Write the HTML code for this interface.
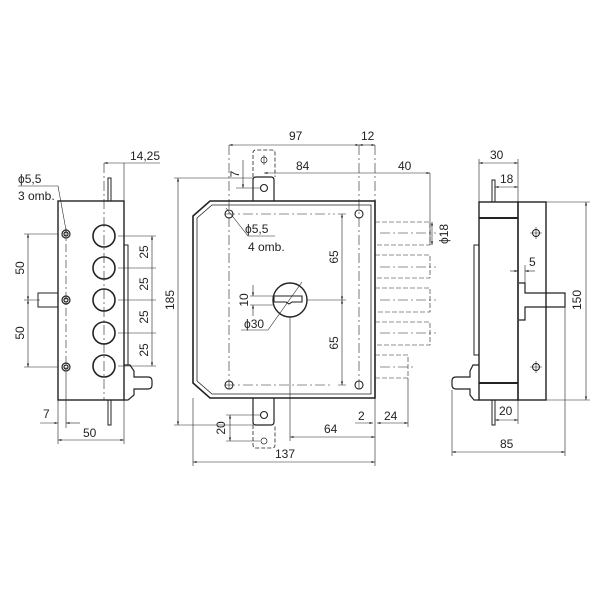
<!DOCTYPE html>
<html><head><meta charset="utf-8"><style>
body{margin:0;background:#fff}
svg{display:block}
text{font-family:"Liberation Sans",sans-serif;font-size:12px;fill:#222}
</style></head><body>
<svg width="600" height="600" viewBox="0 0 600 600" xmlns="http://www.w3.org/2000/svg">
<defs>
<marker id="a" viewBox="0 0 10 10" refX="10" refY="5" markerWidth="6" markerHeight="6" orient="auto-start-reverse"><path d="M0,2 L10,5 L0,8z" fill="#222"/></marker>
</defs>
<g stroke="#222" fill="none">
<!-- LEFT VIEW -->
<rect x="58" y="201" width="66" height="199" stroke-width="1.4"/>
<rect x="108" y="178" width="3" height="23" stroke-width="1"/>
<rect x="108" y="400" width="3" height="25" stroke-width="1"/>
<rect x="38" y="293" width="20" height="14" stroke-width="1"/>
<rect x="124" y="245" width="4" height="120" stroke-width="1"/>
<path d="M124,365 h6 l4,6 v6 h14 q4,0 4,4 v4 q0,4 -4,4 h-14 v6 l-6,5 h-4" stroke-width="1.2"/>
<g stroke-width="1.6"><circle cx="104" cy="236" r="11"/><circle cx="104" cy="268" r="11"/><circle cx="104" cy="300" r="11"/><circle cx="104" cy="333" r="11"/><circle cx="104" cy="366" r="11"/></g>
<g stroke-width="1.2"><circle cx="66" cy="234" r="4"/><circle cx="66" cy="234" r="2"/><circle cx="66" cy="300" r="4"/><circle cx="66" cy="300" r="2"/><circle cx="66" cy="367" r="4"/><circle cx="66" cy="367" r="2"/></g>
<g stroke-width="0.6">
<path d="M104,163 V400" stroke-dasharray="10,3,2,3"/>
<path d="M66,228 V375" stroke-dasharray="8,3,2,3"/>
<path d="M124,163 V201"/><path d="M104,163 H124 M124,163 H160" marker-start="url(#a)"/>
<path d="M18,186 H58 L66,230"/>
<path d="M24,234 H58 M24,300 H40 M24,367 H58"/>
<path d="M28,234 V300" marker-start="url(#a)" marker-end="url(#a)"/>
<path d="M28,300 V367" marker-start="url(#a)" marker-end="url(#a)"/>
<path d="M118,236 H156 M118,268 H156 M118,300 H156 M118,333 H156 M118,366 H156"/>
<path d="M152,236 V268 M152,268 V300 M152,300 V333 M152,333 V366" marker-start="url(#a)" marker-end="url(#a)"/>
<path d="M58,400 V444 M124,400 V444 M66,375 V428"/>
<path d="M58,440 H124" marker-start="url(#a)" marker-end="url(#a)"/>
<path d="M40,423 H58" marker-end="url(#a)"/><path d="M66,423 H80" marker-start="url(#a)"/>
</g>

<!-- CENTER VIEW -->
<path d="M210,201 H375 V398 H210 L193,383 V216 Z" stroke-width="1.6"/>
<path d="M212,205 H371 V394 H212 L197,381 V218 Z" stroke-width="0.8"/>
<path d="M253,201 V180 q0,-3 3,-3 h15 q3,0 3,3 V201" stroke-width="1.2"/>
<path d="M253,398 V422 q0,3 3,3 h15 q3,0 3,-3 V398" stroke-width="1.2"/>
<path d="M253,177 V153 q0,-3 3,-3 h16 q3,0 3,3 V177" stroke-width="0.8" stroke-dasharray="4,2"/>
<path d="M253,425 V445 q0,3 3,3 h16 q3,0 3,-3 V425" stroke-width="0.8" stroke-dasharray="4,2"/>
<g stroke-width="1.1"><circle cx="264" cy="188" r="3.5"/><circle cx="264" cy="415" r="3.5"/><circle cx="264" cy="441" r="3" stroke-width="0.7"/><circle cx="264" cy="160" r="3" stroke-width="0.7"/>
<circle cx="229" cy="214" r="4"/><circle cx="359" cy="214" r="4"/><circle cx="229" cy="385" r="4"/><circle cx="359" cy="385" r="4"/></g>
<circle cx="290" cy="300" r="17" stroke-width="1.4"/>
<path d="M274,296 h28 v6 h-10 l-3,2 l-3,-2 h-12 z" stroke-width="1.1"/>
<g stroke-width="0.6">
<path d="M229,145 V390 M359,145 V390 M375,145 V201 M264,155 V168 M225,214 H335 M225,385 H330" stroke-dasharray="10,3,2,3"/>
<path d="M229,145 H359" marker-start="url(#a)" marker-end="url(#a)"/>
<path d="M359,145 H375" marker-start="url(#a)" marker-end="url(#a)"/>
<path d="M264,173 H375" marker-start="url(#a)"/><path d="M375,173 H430" marker-end="url(#a)"/>
<path d="M430,173 V245"/>
<path d="M432,222 V245" marker-start="url(#a)" marker-end="url(#a)"/>
<path d="M174,178 H253 M174,425 H253"/>
<path d="M178,178 V425" marker-start="url(#a)" marker-end="url(#a)"/>
<path d="M193,398 V466 M375,398 V466"/>
<path d="M193,462 H375" marker-start="url(#a)" marker-end="url(#a)"/>
<path d="M290,317 V441"/>
<path d="M290,437 H375" marker-start="url(#a)" marker-end="url(#a)"/>
<path d="M355,423 H373" marker-end="url(#a)"/><path d="M377,423 H408" marker-start="url(#a)" marker-end="url(#a)"/>
<path d="M408,378 V427"/>
<path d="M226,415 H260 M226,441 H260"/>
<path d="M230,415 V441" marker-start="url(#a)" marker-end="url(#a)"/>
<path d="M243,160 V188" marker-end="url(#a)"/><path d="M236,188 H260"/>
<path d="M338,214 H346 M338,385 H346 M307,300 H346"/>
<path d="M342,214 V300" marker-start="url(#a)" marker-end="url(#a)"/>
<path d="M342,300 V385" marker-start="url(#a)" marker-end="url(#a)"/>
<path d="M250,296 H274 M250,305 H274"/>
<path d="M253,285 V296" marker-end="url(#a)"/><path d="M253,316 V305" marker-end="url(#a)"/>
<path d="M241,330 H268 L302,282"/>
<path d="M226,208 L248,236 H275"/>
<!-- bolts -->
<g stroke-dasharray="5,2">
<path d="M375,222 H430 V245 H375"/>
<path d="M375,255 H430 V278 H375"/>
<path d="M375,288 H430 V312 H375"/>
<path d="M375,322 H430 V345 H375"/>
<path d="M375,355 H408 V378 H375"/>
</g>
<g stroke-dasharray="10,3,2,3">
<path d="M380,233 H436 M380,267 H436 M380,300 H436 M380,333 H436 M380,367 H414"/>
</g>
</g>

<!-- RIGHT VIEW -->
<rect x="479" y="202" width="39" height="198" stroke-width="1.4"/>
<rect x="518" y="202" width="28" height="198" stroke-width="1.4"/>
<path d="M479,218 H518 M479,383 H518" stroke-width="2"/>
<rect x="492" y="180" width="3" height="22" stroke-width="1"/>
<rect x="492" y="400" width="3" height="25" stroke-width="1"/>
<rect x="474" y="245" width="5" height="110" stroke-width="1"/>
<path d="M519,283 H525 V293 H565 V307 H525 V320 H519" stroke-width="1.2"/>
<path d="M479,365 h-6 l-3,6 v6 h-14 q-4,0 -4,4 v4 q0,4 4,4 h14 v6 l4,5 h5" stroke-width="1.2"/>
<g stroke-width="1"><circle cx="536" cy="233" r="3.5"/><circle cx="536" cy="367" r="3.5"/></g>
<g stroke-width="0.6">
<path d="M530,233 H542 M536,227 V239 M530,367 H542 M536,361 V373"/>
<path d="M479,159 V202 M518,159 V202"/>
<path d="M479,163 H518" marker-start="url(#a)" marker-end="url(#a)"/>
<path d="M495,187 H518" marker-start="url(#a)" marker-end="url(#a)"/>
<path d="M510,271 H518" marker-end="url(#a)"/><path d="M525,271 H535" marker-start="url(#a)"/><path d="M525,265 V283"/>
<path d="M546,202 H590 M546,400 H590"/>
<path d="M586,202 V400" marker-start="url(#a)" marker-end="url(#a)"/>
<path d="M495,420 H518" marker-start="url(#a)" marker-end="url(#a)"/>
<path d="M518,400 V424"/>
<path d="M452,390 V456 M565,307 V456"/>
<path d="M452,452 H565" marker-start="url(#a)" marker-end="url(#a)"/>
</g>
</g>

<g>
<text x="130" y="160">14,25</text>
<text x="18" y="183">ϕ5,5</text>
<text x="18" y="200">3 omb.</text>
<text transform="translate(24,268) rotate(-90)" text-anchor="middle">50</text>
<text transform="translate(24,333) rotate(-90)" text-anchor="middle">50</text>
<text transform="translate(148,252) rotate(-90)" text-anchor="middle">25</text>
<text transform="translate(148,284) rotate(-90)" text-anchor="middle">25</text>
<text transform="translate(148,317) rotate(-90)" text-anchor="middle">25</text>
<text transform="translate(148,350) rotate(-90)" text-anchor="middle">25</text>
<text x="43" y="418">7</text>
<text x="83" y="437">50</text>

<text x="289" y="140">97</text>
<text x="361" y="140">12</text>
<text x="296" y="170">84</text>
<text x="398" y="170">40</text>
<text transform="translate(239,174) rotate(-90)" text-anchor="middle">7</text>
<text transform="translate(174,300) rotate(-90)" text-anchor="middle">185</text>
<text transform="translate(448,234) rotate(-90)" text-anchor="middle">ϕ18</text>
<text x="245" y="233">ϕ5,5</text>
<text x="248" y="251">4 omb.</text>
<text transform="translate(338,257) rotate(-90)" text-anchor="middle">65</text>
<text transform="translate(338,343) rotate(-90)" text-anchor="middle">65</text>
<text transform="translate(248,300) rotate(-90)" text-anchor="middle">10</text>
<text x="244" y="328">ϕ30</text>
<text transform="translate(225,428) rotate(-90)" text-anchor="middle">20</text>
<text x="358" y="420">2</text>
<text x="384" y="420">24</text>
<text x="324" y="433">64</text>
<text x="275" y="458">137</text>

<text x="490" y="159">30</text>
<text x="500" y="183">18</text>
<text x="529" y="266">5</text>
<text transform="translate(581,300) rotate(-90)" text-anchor="middle">150</text>
<text x="499" y="415">20</text>
<text x="500" y="448">85</text>
</g>
</svg>
</body></html>
